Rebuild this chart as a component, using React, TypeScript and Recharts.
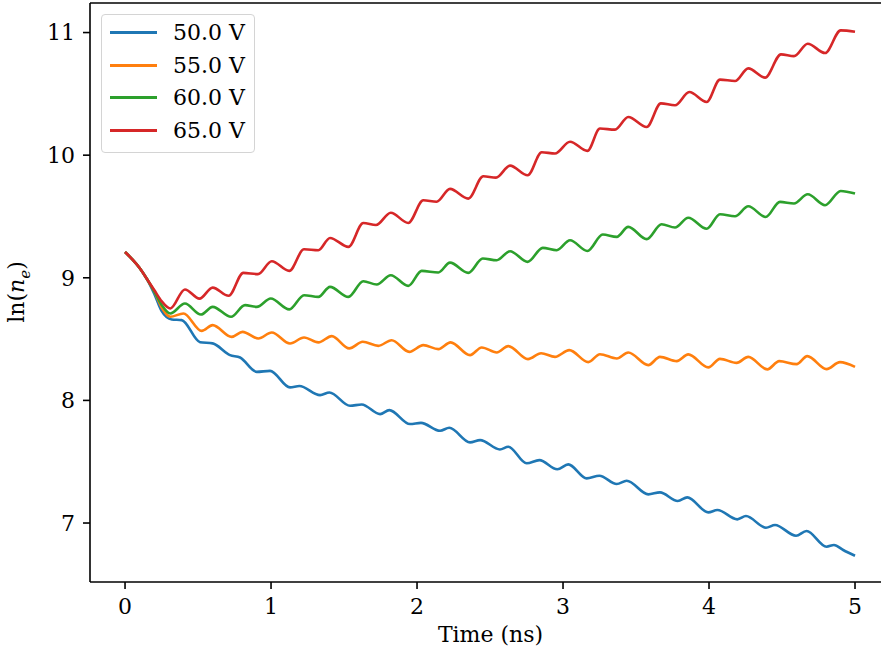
import React from 'react';
import { LineChart, Line, XAxis, YAxis, ReferenceLine } from 'recharts';

// time (ns) and ln(n_e), one pair of arrays per voltage
const T_50 = [0, 0.05, 0.1, 0.15, 0.2, 0.25, 0.32, 0.388, 0.514, 0.6, 0.719, 0.788, 0.902, 0.993, 1.13, 1.194, 1.336, 1.4, 1.541, 1.621, 1.747, 1.81, 1.952, 2.027, 2.158, 2.221, 2.363, 2.432, 2.568, 2.625, 2.751, 2.838, 2.961, 3.036, 3.162, 3.249, 3.368, 3.436, 3.584, 3.664, 3.786, 3.851, 3.995, 4.057, 4.194, 4.253, 4.39, 4.452, 4.596, 4.668, 4.805, 4.856, 4.919, 5.0];
const V_50 = [9.21, 9.15, 9.08, 8.99, 8.87, 8.73, 8.66, 8.655, 8.475, 8.465, 8.369, 8.35, 8.233, 8.241, 8.106, 8.117, 8.043, 8.065, 7.956, 7.967, 7.888, 7.921, 7.807, 7.817, 7.752, 7.777, 7.658, 7.676, 7.6, 7.622, 7.487, 7.513, 7.438, 7.478, 7.364, 7.385, 7.318, 7.345, 7.234, 7.25, 7.179, 7.209, 7.087, 7.106, 7.03, 7.057, 6.962, 6.984, 6.896, 6.935, 6.807, 6.821, 6.78, 6.733];

const T_55 = [0, 0.05, 0.1, 0.15, 0.2, 0.25, 0.31, 0.4, 0.525, 0.6, 0.73, 0.805, 0.913, 1.005, 1.13, 1.226, 1.324, 1.416, 1.536, 1.628, 1.735, 1.826, 1.947, 2.043, 2.146, 2.23, 2.363, 2.443, 2.546, 2.625, 2.76, 2.85, 2.945, 3.043, 3.173, 3.253, 3.368, 3.447, 3.584, 3.664, 3.779, 3.858, 3.995, 4.075, 4.189, 4.269, 4.399, 4.481, 4.6, 4.673, 4.805, 4.897, 5.0];
const V_55 = [9.21, 9.15, 9.08, 8.99, 8.89, 8.76, 8.682, 8.709, 8.567, 8.614, 8.518, 8.559, 8.505, 8.554, 8.464, 8.513, 8.473, 8.524, 8.424, 8.478, 8.445, 8.491, 8.396, 8.451, 8.418, 8.473, 8.369, 8.432, 8.391, 8.443, 8.337, 8.385, 8.355, 8.41, 8.312, 8.377, 8.342, 8.391, 8.288, 8.355, 8.32, 8.375, 8.269, 8.339, 8.306, 8.355, 8.253, 8.32, 8.296, 8.361, 8.255, 8.312, 8.274];

const T_60 = [0, 0.05, 0.1, 0.15, 0.2, 0.25, 0.31, 0.41, 0.52, 0.6, 0.726, 0.822, 0.902, 0.998, 1.125, 1.226, 1.324, 1.404, 1.53, 1.632, 1.724, 1.82, 1.94, 2.032, 2.146, 2.226, 2.351, 2.45, 2.546, 2.637, 2.758, 2.861, 2.957, 3.048, 3.167, 3.272, 3.368, 3.447, 3.573, 3.675, 3.767, 3.858, 3.984, 4.075, 4.178, 4.269, 4.388, 4.486, 4.582, 4.676, 4.795, 4.902, 5.0];
const V_60 = [9.21, 9.15, 9.08, 8.99, 8.89, 8.78, 8.709, 8.79, 8.7, 8.763, 8.682, 8.777, 8.763, 8.831, 8.742, 8.858, 8.844, 8.926, 8.844, 8.972, 8.945, 9.021, 8.934, 9.056, 9.043, 9.124, 9.04, 9.157, 9.143, 9.217, 9.13, 9.244, 9.225, 9.306, 9.219, 9.353, 9.334, 9.415, 9.315, 9.437, 9.41, 9.49, 9.4, 9.518, 9.502, 9.583, 9.496, 9.619, 9.606, 9.681, 9.592, 9.708, 9.687];

const T_65 = [0, 0.05, 0.1, 0.15, 0.2, 0.25, 0.31, 0.41, 0.51, 0.6, 0.71, 0.81, 0.91, 1.005, 1.125, 1.226, 1.324, 1.404, 1.53, 1.632, 1.719, 1.82, 1.94, 2.043, 2.134, 2.226, 2.351, 2.454, 2.541, 2.637, 2.758, 2.854, 2.945, 3.048, 3.167, 3.253, 3.356, 3.447, 3.573, 3.67, 3.767, 3.865, 3.984, 4.075, 4.178, 4.269, 4.384, 4.493, 4.582, 4.676, 4.795, 4.902, 5.0];
const V_65 = [9.21, 9.15, 9.08, 8.99, 8.9, 8.81, 8.75, 8.905, 8.83, 8.92, 8.853, 9.04, 9.03, 9.135, 9.056, 9.233, 9.225, 9.325, 9.252, 9.447, 9.43, 9.53, 9.447, 9.632, 9.62, 9.725, 9.646, 9.828, 9.817, 9.915, 9.836, 10.024, 10.013, 10.11, 10.035, 10.217, 10.208, 10.311, 10.23, 10.422, 10.407, 10.515, 10.434, 10.616, 10.605, 10.708, 10.632, 10.822, 10.808, 10.909, 10.833, 11.018, 11.007];

const LABELS = ['50.0 V', '55.0 V', '60.0 V', '65.0 V'];
const COLORS = ['#1f77b4', '#ff7f0e', '#2ca02c', '#d62728'];
const X_TICKS = [0, 1, 2, 3, 4, 5];
const Y_TICKS = [7, 8, 9, 10, 11];

const X_MIN = -0.24;
const X_MAX = 5.178;
const Y_MIN = 6.519;
const Y_MAX = 11.241;

const FONT = "'DejaVu Serif', serif";

const toRows = (ts: number[], vs: number[]) => ts.map((t, i) => ({ t, v: vs[i] }));

const SERIES = [
  toRows(T_50, V_50),
  toRows(T_55, V_55),
  toRows(T_60, V_60),
  toRows(T_65, V_65),
];

const tickStyle = { fill: '#000', fontSize: 22, fontFamily: FONT };
const axisStroke = { stroke: '#000', strokeWidth: 1.6 };

export default function App() {
  return (
    <div
      style={{
        position: 'absolute',
        left: 0,
        top: 0,
        width: 881,
        height: 655,
        overflow: 'hidden',
        background: '#fff',
        fontFamily: FONT,
      }}
    >
      <LineChart width={881} height={655} margin={{ top: 3, right: 0, bottom: 0, left: 0 }}>
        <XAxis
          type="number"
          dataKey="t"
          domain={[X_MIN, X_MAX]}
          ticks={X_TICKS}
          allowDataOverflow
          height={73}
          tick={tickStyle}
          tickSize={7}
          tickMargin={9}
          axisLine={axisStroke}
          tickLine={axisStroke}
        />
        <YAxis
          type="number"
          domain={[Y_MIN, Y_MAX]}
          ticks={Y_TICKS}
          allowDataOverflow
          width={90}
          tick={tickStyle}
          tickSize={7}
          tickMargin={8}
          axisLine={axisStroke}
          tickLine={axisStroke}
        />
        <ReferenceLine y={Y_MAX} stroke="#000" strokeWidth={1.6} />
        {SERIES.map((rows, i) => (
          <Line
            key={LABELS[i]}
            data={rows}
            dataKey="v"
            type="monotone"
            stroke={COLORS[i]}
            strokeWidth={2.6}
            dot={false}
            activeDot={false}
            isAnimationActive={false}
          />
        ))}
      </LineChart>

      {/* axis titles */}
      <div
        style={{
          position: 'absolute',
          left: 0,
          width: 981,
          top: 621,
          textAlign: 'center',
          fontSize: 22,
          lineHeight: '28px',
          color: '#000',
        }}
      >
        Time (ns)
      </div>
      <div
        style={{
          position: 'absolute',
          left: 21,
          top: 292,
          transform: 'translate(-50%, -50%) rotate(-90deg)',
          fontSize: 22,
          lineHeight: '28px',
          whiteSpace: 'nowrap',
          color: '#000',
        }}
      >
        ln(<i>n</i>
        <sub style={{ fontSize: 15 }}>
          <i>e</i>
        </sub>
        )
      </div>

      {/* legend */}
      <div
        style={{
          position: 'absolute',
          left: 101,
          top: 14,
          width: 152,
          height: 137,
          border: '1px solid #d4d4d4',
          borderRadius: 4,
          background: 'rgba(255,255,255,0.8)',
        }}
      >
        {LABELS.map((label, i) => (
          <div
            key={label}
            style={{
              position: 'absolute',
              left: 0,
              top: 1 + Math.round(i * 32.6),
              height: 32,
              width: 152,
              display: 'flex',
              alignItems: 'center',
            }}
          >
            <div style={{ marginLeft: 8, width: 47, height: 3, background: COLORS[i] }} />
            <span style={{ marginLeft: 16, fontSize: 22, color: '#000' }}>{label}</span>
          </div>
        ))}
      </div>
    </div>
  );
}
